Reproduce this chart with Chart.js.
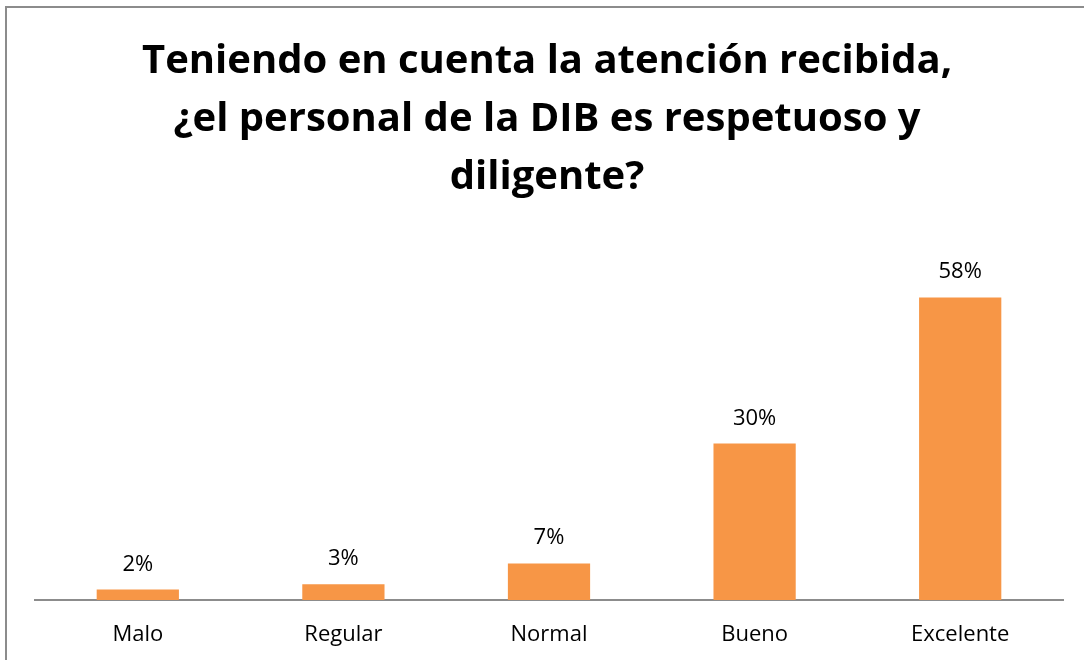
<!DOCTYPE html>
<html>
<head>
<meta charset="utf-8">
<script src="https://cdn.jsdelivr.net/npm/chart.js@4/dist/chart.umd.min.js"></script>
<style>
  html, body { margin: 0; padding: 0; background: #fff; }
  #wrap { width: 1084px; height: 660px; position: relative; }
</style>
</head>
<body>
<div id="wrap"><canvas id="chart" width="1084" height="660"></canvas></div>
<script>
// Chart data
const categories = ['Malo', 'Regular', 'Normal', 'Bueno', 'Excelente'];
const percentages = [2, 3, 7, 30, 58];
const titleLines = ['Teniendo en cuenta la atención recibida,', '¿el personal de la DIB es respetuoso y', 'diligente?'];

const barColor = '#F79646';
const fontFamily = '"Open Sans", "Liberation Sans", sans-serif';

// Frame line + title drawn before the chart
const framePlugin = {
  id: 'frame',
  beforeDraw(chart) {
    const ctx = chart.ctx;
    ctx.save();
    ctx.fillStyle = '#fff';
    ctx.fillRect(0, 0, chart.width, chart.height);
    ctx.strokeStyle = '#8c8c8c';
    ctx.lineWidth = 2;
    ctx.beginPath();
    ctx.moveTo(6, chart.height);
    ctx.lineTo(6, 7);
    ctx.lineTo(chart.width, 7);
    ctx.stroke();

    ctx.fillStyle = '#000';
    ctx.font = 'bold 40px ' + fontFamily;
    ctx.textAlign = 'center';
    ctx.textBaseline = 'alphabetic';
    titleLines.forEach((line, i) => {
      ctx.fillText(line, 547, 73 + i * 58);
    });
    ctx.restore();
  }
};

// Value labels above each bar
const valueLabels = {
  id: 'valueLabels',
  afterDatasetsDraw(chart) {
    const ctx = chart.ctx;
    const meta = chart.getDatasetMeta(0);
    ctx.save();
    ctx.fillStyle = '#000';
    ctx.font = '22px ' + fontFamily;
    ctx.textAlign = 'center';
    ctx.textBaseline = 'alphabetic';
    meta.data.forEach((bar, i) => {
      ctx.fillText(percentages[i] + '%', bar.x, bar.y - 19);
    });
    ctx.restore();
  }
};

new Chart(document.getElementById('chart'), {
  type: 'bar',
  data: {
    labels: categories,
    datasets: [{
      data: percentages,
      backgroundColor: barColor,
      barPercentage: 0.4,
      categoryPercentage: 1.0
    }]
  },
  options: {
    responsive: false,
    animation: false,
    layout: { padding: { left: 35, right: 21, top: 287, bottom: 0 } },
    plugins: {
      legend: { display: false },
      tooltip: { enabled: false }
    },
    scales: {
      x: {
        grid: { display: false },
        border: { display: true, color: '#8c8c8c', width: 2 },
        ticks: { color: '#000', padding: 14, maxRotation: 0, font: { family: fontFamily, size: 22 } },
        afterFit(scale) { scale.height = 60; }
      },
      y: {
        display: false,
        min: 0,
        max: 60
      }
    }
  },
  plugins: [framePlugin, valueLabels]
});
</script>
</body>
</html>
